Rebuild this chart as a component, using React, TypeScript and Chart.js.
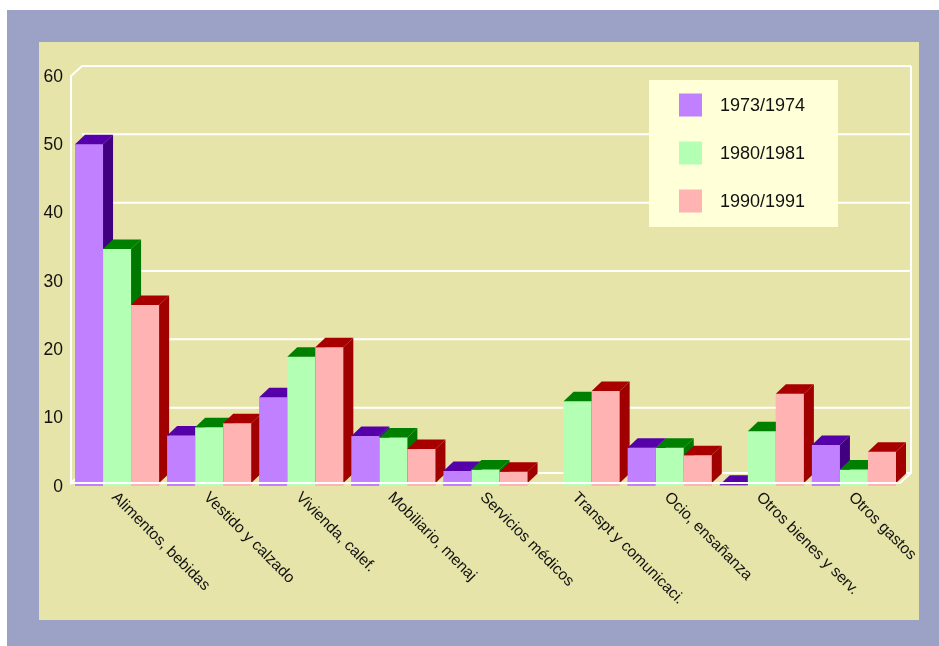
import React, { useEffect, useRef } from "react";
import { Chart, registerables } from "chart.js";

Chart.register(...registerables);

const categories = [
  "Alimentos, bebidas",
  "Vestido y calzado",
  "Vivienda, calef.",
  "Mobiliario, menaj",
  "Servicios médicos",
  "Transpt y comunicaci.",
  "Ocio, ensañanza",
  "Otros bienes y serv.",
  "Otros gastos",
];
const seriesNames = ["1973/1974", "1980/1981", "1990/1991"];
const series1973 = [50, 7.4, 13, 7.3, 2.2, 0, 5.6, 0.2, 6.0];
const series1980 = [34.7, 8.6, 18.9, 7.1, 2.4, 12.4, 5.6, 8.0, 2.4];
const series1990 = [26.5, 9.2, 20.3, 5.4, 2.1, 13.9, 4.5, 13.5, 5.0];
const yTicks = [0, 10, 20, 30, 40, 50, 60];

const frontColors = ["#c080ff", "#b3ffb3", "#ffb3b3"];
const topColors = ["#5500a8", "#008000", "#a80000"];
const sideColors = ["#40007f", "#007800", "#a00000"];

const FONT = '"Liberation Sans", Arial, sans-serif';
const WALL_DX = 11;
const WALL_DY = -10;
const BAR_DX = 10;
const BAR_DY = -9.5;

const decorPlugin = {
  id: "decor3d",
  beforeDraw(chart: any) {
    const ctx = chart.ctx;
    ctx.save();
    ctx.fillStyle = "#ffffff";
    ctx.fillRect(0, 0, chart.width, chart.height);
    ctx.fillStyle = "#9ca2c6";
    ctx.fillRect(7, 10, chart.width - 7, chart.height - 10);
    ctx.fillStyle = "#e6e4a8";
    ctx.fillRect(39, 42, 880, 578);
    ctx.restore();
  },
  beforeDatasetsDraw(chart: any) {
    const ctx = chart.ctx;
    const ca = chart.chartArea;
    const ys = chart.scales.y;
    const floorFront = ys.getPixelForValue(0) - 3;
    const floorBack = floorFront + WALL_DY;
    const topFront = ys.getPixelForValue(yTicks[yTicks.length - 1]);
    ctx.save();
    ctx.strokeStyle = "#ffffff";
    ctx.lineWidth = 2;
    yTicks.forEach((v) => {
      const y = v === 0 ? floorBack : ys.getPixelForValue(v) + WALL_DY;
      ctx.beginPath();
      ctx.moveTo(ca.left + WALL_DX, y);
      ctx.lineTo(ca.right + WALL_DX, y);
      ctx.stroke();
    });
    ctx.beginPath();
    ctx.moveTo(ca.right + WALL_DX, topFront + WALL_DY);
    ctx.lineTo(ca.right + WALL_DX, floorBack);
    ctx.lineTo(ca.right, floorFront);
    ctx.stroke();
    ctx.beginPath();
    ctx.moveTo(ca.left + WALL_DX, topFront + WALL_DY);
    ctx.lineTo(ca.left, topFront);
    ctx.lineTo(ca.left, floorFront);
    ctx.lineTo(ca.left + WALL_DX, floorBack);
    ctx.stroke();
    ctx.restore();
  },
  afterDatasetsDraw(chart: any) {
    const ctx = chart.ctx;
    const ca = chart.chartArea;
    const ys = chart.scales.y;
    const xs = chart.scales.x;
    ctx.save();
    categories.forEach((_, i) => {
      chart.data.datasets.forEach((ds: any, d: number) => {
        const v = ds.data[i];
        if (!(v > 0)) return;
        const el = chart.getDatasetMeta(d).data[i];
        const p = el.getProps(["x", "y", "width", "base"], true);
        const l = p.x - p.width / 2;
        const r = p.x + p.width / 2;
        const top = p.y;
        const base = p.base;
        ctx.fillStyle = frontColors[d];
        ctx.fillRect(l, top, r - l, base - top);
        ctx.fillStyle = topColors[d];
        ctx.beginPath();
        ctx.moveTo(l, top);
        ctx.lineTo(r, top);
        ctx.lineTo(r + BAR_DX, top + BAR_DY);
        ctx.lineTo(l + BAR_DX, top + BAR_DY);
        ctx.closePath();
        ctx.fill();
        ctx.fillStyle = sideColors[d];
        ctx.beginPath();
        ctx.moveTo(r, top);
        ctx.lineTo(r + BAR_DX, top + BAR_DY);
        ctx.lineTo(r + BAR_DX, base - 3 + BAR_DY);
        ctx.lineTo(r, base - 3);
        ctx.closePath();
        ctx.fill();
      });
    });
    const floorFront = ys.getPixelForValue(0) - 3;
    ctx.strokeStyle = "#ffffff";
    ctx.lineWidth = 2;
    ctx.beginPath();
    ctx.moveTo(ca.left, floorFront);
    ctx.lineTo(ca.right, floorFront);
    ctx.stroke();

    ctx.fillStyle = "#111111";
    ctx.font = "17.5px " + FONT;
    ctx.textAlign = "right";
    ctx.textBaseline = "middle";
    yTicks.forEach((v) => {
      ctx.fillText(String(v), ca.left - 8, ys.getPixelForValue(v) + 1);
    });

    ctx.font = "15.6px " + FONT;
    ctx.textAlign = "left";
    ctx.textBaseline = "middle";
    categories.forEach((c, i) => {
      const x = xs.getPixelForValue(i);
      ctx.save();
      ctx.translate(x - 3, ys.getPixelForValue(0) + 9);
      ctx.rotate(Math.PI / 4);
      ctx.fillText(c, 0, 0);
      ctx.restore();
    });

    ctx.fillStyle = "#ffffd8";
    ctx.fillRect(649, 80, 189, 147);
    ctx.font = "18px " + FONT;
    ctx.textAlign = "left";
    ctx.textBaseline = "middle";
    seriesNames.forEach((n, k) => {
      const cy = 105 + k * 48;
      ctx.fillStyle = frontColors[k];
      ctx.fillRect(679, cy - 11.5, 23, 23);
      ctx.fillStyle = "#111111";
      ctx.fillText(n, 720, cy + 1);
    });
    ctx.restore();
  },
};

export default function App() {
  const ref = useRef<HTMLCanvasElement | null>(null);
  useEffect(() => {
    if (!ref.current) return;
    const chart = new Chart(ref.current, {
      type: "bar",
      data: {
        labels: categories,
        datasets: [
          { label: seriesNames[0], data: series1973, backgroundColor: frontColors[0] },
          { label: seriesNames[1], data: series1980, backgroundColor: frontColors[1] },
          { label: seriesNames[2], data: series1990, backgroundColor: frontColors[2] },
        ],
      },
      options: {
        responsive: false,
        animation: false,
        devicePixelRatio: 1,
        layout: { padding: { left: 71, right: 39, top: 76, bottom: 160 } },
        datasets: { bar: { categoryPercentage: 0.913, barPercentage: 1 } },
        scales: {
          x: { display: false },
          y: { display: false, min: 0, max: 60 },
        },
        plugins: { legend: { display: false }, tooltip: { enabled: false } },
      },
      plugins: [decorPlugin],
    });
    return () => chart.destroy();
  }, []);
  return (
    <div style={{ position: "fixed", left: 0, top: 0, width: 939, height: 646 }}>
      <canvas ref={ref} width={939} height={646} style={{ width: 939, height: 646, display: "block" }} />
    </div>
  );
}
